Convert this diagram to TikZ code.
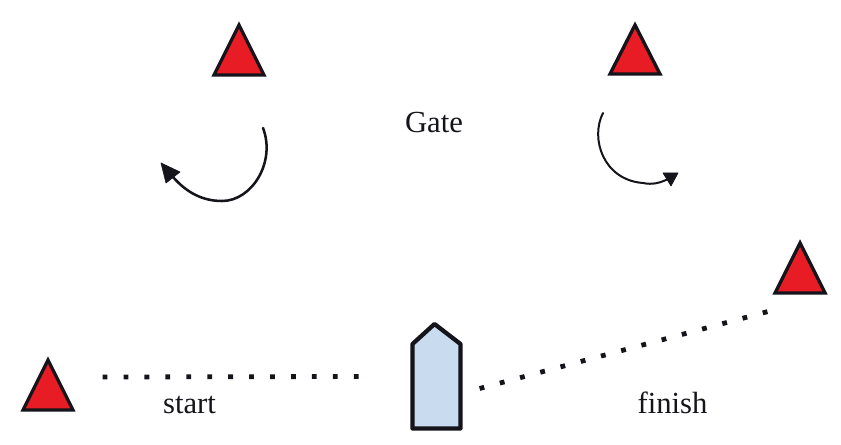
\documentclass[tikz,border=0pt]{standalone}
\usepackage{fontspec}
\setmainfont{Liberation Serif}
\definecolor{buoyred}{HTML}{E81C24}
\definecolor{hull}{HTML}{C9DBEE}
\definecolor{ink}{HTML}{14141A}
\tikzset{
  buoy/.style={fill=buoyred,draw=ink,line width=2.5pt,line join=miter},
  boat/.style={fill=hull,draw=ink,line width=3.2pt,line join=round},
  turn/.style={draw=ink,line width=1.9pt,line cap=round},
  turnhead/.style={fill=ink,draw=ink,line width=0.5pt,line join=round},
  dotline/.style={draw=ink,line width=3.6pt,dash pattern=on 3.6pt off 12.1pt},
  lab/.style={font=\fontsize{23}{26}\selectfont,text=ink,inner sep=0pt}
}
\begin{document}
\begin{tikzpicture}[x=0.75pt,y=-0.75pt]
\useasboundingbox (0,0) rectangle (841,445);
\path[buoy] (239,25) -- (264,75) -- (214,75) -- cycle;
\path[buoy] (635,25) -- (660,74) -- (610,74) -- cycle;
\path[buoy] (800,243) -- (825,293) -- (775,293) -- cycle;
\path[buoy] (48,360) -- (73,410) -- (23,410) -- cycle;
\path[boat] (434.5,324) -- (460.5,344) -- (460.5,428.5) -- (412.5,428.5) -- (412.5,344) -- cycle;
\coordinate (a1) at (263,128);
\coordinate (a2) at (222,201);
\coordinate (a3) at (173,177);
\draw[turn] (a1) .. controls (276,162) and (252,201) .. (a2) .. controls (203,201) and (187,193) .. (a3);
\path[turnhead] (161,163) -- (180,172) -- (166,183) -- cycle;
\coordinate (b1) at (603,113);
\coordinate (b2) at (643,183);
\coordinate (b3) at (668,179);
\draw[turn,line width=1.5pt] (b1) .. controls (590,138) and (603,180) .. (b2) .. controls (652,185) and (660,183) .. (b3);
\path[turnhead] (663,173) -- (678,173) -- (671,186) -- cycle;
\coordinate (s1) at (102.6,377);
\coordinate (s2) at (360,376.5);
\draw[dotline] (s1) -- (s2);
\coordinate (f1) at (479.6,388.5);
\coordinate (f2) at (768,311.5);
\draw[dotline] (f1) -- (f2);
\node[lab] (gate) at (434,122) {Gate};
\node[lab] (start) at (189.5,405) {start};
\node[lab] (finish) at (672.5,403) {finish};
\end{tikzpicture}
\end{document}
